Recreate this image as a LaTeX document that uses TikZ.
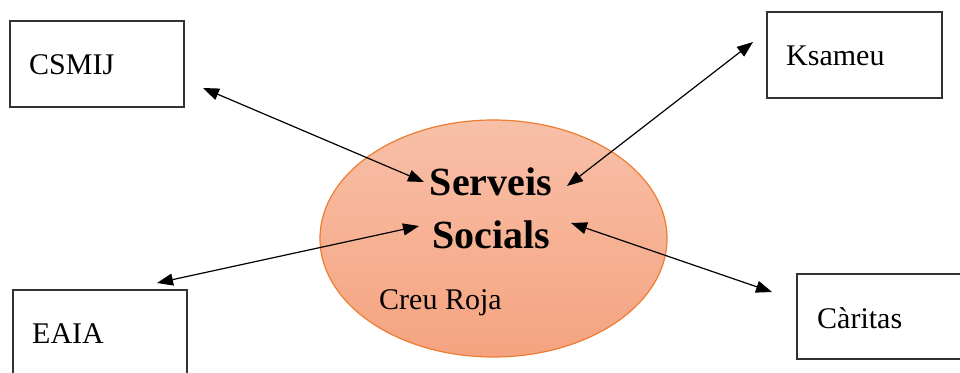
\documentclass[tikz,border=0pt]{standalone}
\usepackage{fontspec}
\setmainfont{Liberation Serif}
\usetikzlibrary{arrows.meta}
\definecolor{elltop}{RGB}{248,192,168}
\definecolor{ellbot}{RGB}{245,163,128}
\definecolor{ellborder}{RGB}{237,125,49}
\definecolor{boxline}{RGB}{50,50,50}
\tikzset{
  boxnode/.style={draw=boxline, line width=1.4pt, inner sep=0pt, fill=white},
  lbl/.style={font=\fontsize{30}{36}\selectfont, inner sep=0pt, anchor=base west},
  biglbl/.style={font=\fontsize{40}{48}\selectfont\bfseries, inner sep=0pt, anchor=base},
  link/.style={line width=1.2pt, {Triangle[length=16pt,width=12pt]}-{Triangle[length=16pt,width=12pt]}}
}
\begin{document}
\begin{tikzpicture}[x=1pt,y=-1pt]
\useasboundingbox (0,0) rectangle (960,372);
\clip (0,0) rectangle (960,372);
% ellipse
\path[top color=elltop, bottom color=ellbot, draw=ellborder, line width=1.2pt]
  (493.5,238.5) ellipse [x radius=173.5, y radius=118.5];
\coordinate (ell) at (493.5,238.5);
% boxes
\node[boxnode, minimum width=174, minimum height=86] (csmij) at (97,64) {};
\node[boxnode, minimum width=175, minimum height=86] (ksameu) at (854.5,55) {};
\node[boxnode, minimum width=174, minimum height=100] (eaia) at (100,340) {};
\node[boxnode, minimum width=180, minimum height=85] (caritas) at (887,316.5) {};
% labels
\node[lbl] (tcsmij) at (29,74) {CSMIJ};
\node[lbl] (tksameu) at (786,65) {Ksameu};
\node[lbl] (teaia) at (32,343) {EAIA};
\node[lbl] (tcaritas) at (817,328) {Càritas};
\node[lbl] (tcreu) at (379,309) {Creu Roja};
\node[biglbl] (tserveis) at (491,195) {Serveis};
\node[biglbl] (tsocials) at (491,248) {Socials};
% arrow end points
\coordinate (a1) at (203,88);
\coordinate (b1) at (424,182);
\coordinate (a2) at (753,42);
\coordinate (b2) at (567,186);
\coordinate (a3) at (157,283);
\coordinate (b3) at (419,226);
\coordinate (a4) at (772,292);
\coordinate (b4) at (571,223);
\draw[link] (a1) -- (b1);
\draw[link] (a2) -- (b2);
\draw[link] (a3) -- (b3);
\draw[link] (a4) -- (b4);
\end{tikzpicture}
\end{document}
